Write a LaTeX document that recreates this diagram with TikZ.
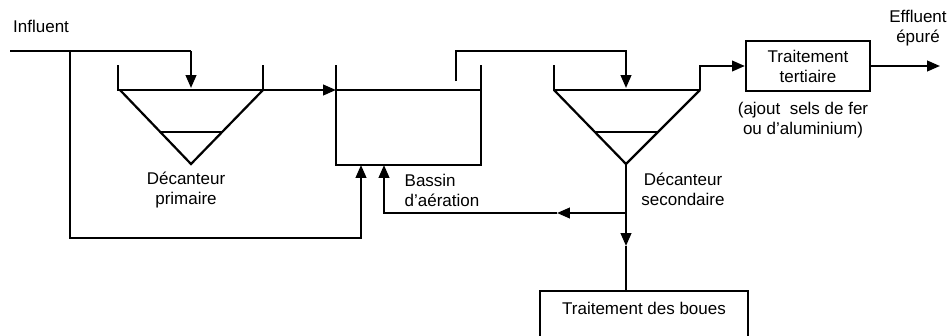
\documentclass[tikz,border=0pt]{standalone}
\usepackage{fontspec}
\setmainfont{Liberation Sans}
\usetikzlibrary{arrows.meta}
\begin{document}
\begin{tikzpicture}[x=0.03cm,y=-0.03cm,
  pipe/.style={line width=1.9pt,line join=miter},
  flow/.style={pipe,-{Triangle[length=11pt,width=9pt]}},
  tank/.style={line width=1.9pt,line join=miter},
  thin/.style={line width=1.3pt},
  lbl/.style={font=\fontsize{14.5}{17}\selectfont,align=center,inner sep=0pt},
  box/.style={draw,line width=1.9pt,inner sep=0pt,font=\fontsize{14.5}{17}\selectfont,align=center}]
\useasboundingbox (0,0) rectangle (949,336);
\clip (0,0) rectangle (949,336);
% coordinates
\coordinate (inA) at (10,51);
\coordinate (split) at (70,51);
\coordinate (inB) at (191,51);
\coordinate (p1in) at (191,88);
\coordinate (p1out) at (263,90);
\coordinate (a1in) at (336,90);
\coordinate (bypA) at (70,238);
\coordinate (bypB) at (361,238);
\coordinate (bypC) at (361,165);
\coordinate (aout) at (456,81);
\coordinate (aoutA) at (456,51);
\coordinate (aoutB) at (626,51);
\coordinate (s2in) at (626,88);
\coordinate (s2out) at (700,90);
\coordinate (s2outA) at (700,66);
\coordinate (s2bot) at (626,164);
\coordinate (ret) at (626,213);
\coordinate (retM) at (557,213);
\coordinate (retA) at (384,213);
\coordinate (retB) at (384,165);
\coordinate (sludgeM) at (626,246);
\coordinate (effl) at (940,66);
% primary clarifier
\draw[tank] (118,65) -- (118,90) -- (263,90) -- (263,65);
\draw[tank] (120,90) -- (191,164) -- (263,90);
\draw[thin] (160,132) -- (222,132);
% aeration basin
\draw[tank] (336,65) -- (336,165) -- (481,165) -- (481,65);
\draw[thin] (336,90) -- (481,90);
% secondary clarifier
\draw[tank] (554,65) -- (554,90) -- (700,90);
\draw[tank] (554,90) -- (626,164) -- (700,90);
\draw[thin] (595,132) -- (658,132);
% boxes
\node[box,minimum width=3.72cm,minimum height=1.5cm] (tert) at (808,66) {Traitement\\tertiaire};
\node[box,anchor=north,minimum width=6.24cm,text height=0.69cm,text depth=1.2cm] (boues) at (644,290) {Traitement des boues};
% labels
\node[lbl,anchor=base west] (infl) at (13,32) {Influent};
\node[lbl] (dec1) at (186,190) {Décanteur\\primaire};
\node[lbl,align=left] (bass) at (442,190) {Bassin\\d’aération};
\node[lbl] (dec2) at (683,189) {Décanteur\\secondaire};
\node[lbl] (ajout) at (803,120) {(ajout~ sels de fer\\ou d’aluminium)};
\node[lbl] (eff) at (918,28) {Effluent\\épuré};
% connectors
\draw[pipe] (inA) -- (inB);
\draw[flow] (inB) -- (p1in);
\draw[flow] (p1out) -- (a1in);
\draw[flow] (split) -- (bypA) -- (bypB) -- (bypC);
\draw[flow] (aout) -- (aoutA) -- (aoutB) -- (s2in);
\draw[flow] (s2out) -- (s2outA) -- (tert.west);
\draw[flow] (tert.east) -- (effl);
\draw[flow] (s2bot) -- (sludgeM);
\draw[pipe] (sludgeM) -- (sludgeM |- boues.north);
\draw[flow] (ret) -- (retM);
\draw[flow] (retM) -- (retA) -- (retB);
\end{tikzpicture}
\end{document}
